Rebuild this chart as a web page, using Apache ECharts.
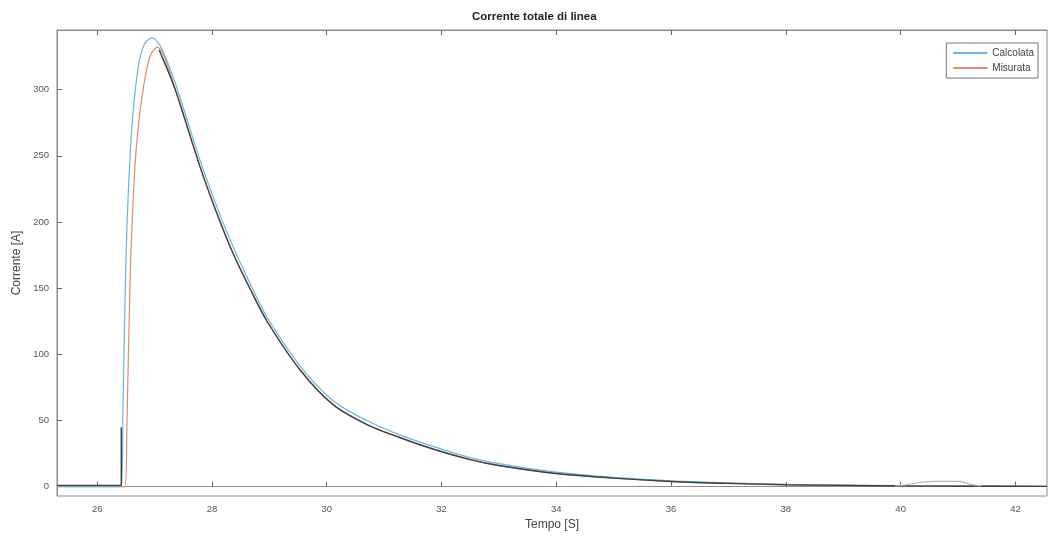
<!DOCTYPE html>
<html>
<head>
<meta charset="utf-8">
<script src="https://cdn.jsdelivr.net/npm/echarts@6/dist/echarts.min.js"></script>
<style>
  html, body { margin: 0; padding: 0; background: #fff; }
  #chart { width: 1049px; height: 539px; }
</style>
</head>
<body>
<div id="chart"></div>
<script>
// tick positions (MATLAB style axes)
const xTicks = [26, 28, 30, 32, 34, 36, 38, 40, 42];
const yTicks = [0, 50, 100, 150, 200, 250, 300];

// Calcolata (blue)
const calcT = [25.3, 26.42, 26.45, 26.5, 26.55, 26.62, 26.72, 26.83, 26.96, 27.1, 27.36, 27.79, 28.09, 28.37, 28.67, 28.96, 29.54, 30.11, 30.7, 31.28, 31.85, 32.5, 33, 34, 35, 36, 37, 38, 39, 40, 41, 42.55];
const calcV = [0, 0, 60, 170, 230, 280, 318, 335, 339, 333, 305, 247, 211, 181, 153, 128, 91, 65, 50, 39, 30.5, 22, 17.5, 11, 7, 4.5, 3, 1.8, 1.2, 0.8, 0.5, 0.3];

// Misurata (red)
const misT = [25.3, 26.48, 26.52, 26.57, 26.63, 26.7, 26.8, 26.92, 27.05, 27.15, 27.36, 27.79, 28.09, 28.37, 28.67, 28.96, 29.54, 30.11, 30.7, 31.28, 31.85, 32.5, 33, 34, 35, 36, 37, 38, 39, 40, 41, 42.55];
const misV = [0, 0, 50, 150, 220, 265, 300, 325, 332, 327, 300, 242, 206, 176, 149, 125, 88, 62, 47, 37, 28.5, 20.5, 16, 10, 6.5, 4, 2.5, 1.5, 1, 0.5, 0.4, 0.3];

// dark trace (not in legend)
const darkT = [25.3, 26.42, 26.42, 26.5, 27.08, 27.36, 27.79, 28.09, 28.37, 28.67, 28.96, 29.54, 30.11, 30.7, 31.28, 31.85, 32.5, 33, 34, 35, 36, 37, 38, 39, 40, 41, 42.55];
const darkV = [1, 1, 45, '-', 330, 300, 242, 206, 176, 149, 125, 88, 62, 47, 37, 28.5, 20.5, 16, 10, 6.5, 4, 2.5, 1.5, 1, 0.5, 0.4, 0.3];

// small light grey bump near 40-41 s
const bumpT = [39.9, 40.1, 40.3, 40.6, 41.0, 41.2, 41.4];
const bumpV = [0.5, 1.5, 3, 4, 4, 2, 0.5];

const pairs = (t, v) => t.map((x, i) => [x, v[i]]);

const chart = echarts.init(document.getElementById('chart'));
const font = 'Liberation Sans, Arial, sans-serif';
const frame = '#8c8c8c';

chart.setOption({
  animation: false,
  backgroundColor: '#fff',
  title: {
    text: 'Corrente totale di linea',
    left: 467,
    top: 6,
    textStyle: { fontFamily: font, fontSize: 11.5, fontWeight: 'bold', color: '#222' }
  },
  legend: {
    data: ['Calcolata', 'Misurata'],
    orient: 'vertical',
    right: 11,
    top: 43,
    itemWidth: 34,
    itemHeight: 2,
    itemGap: 5,
    icon: 'rect',
    padding: [5, 4, 5, 7],
    borderColor: '#777',
    borderWidth: 1,
    backgroundColor: '#fff',
    textStyle: { fontFamily: font, fontSize: 10, color: '#444' }
  },
  grid: {
    left: 57, right: 2, top: 30, bottom: 43,
    show: true, borderColor: frame, borderWidth: 1
  },
  xAxis: [
    {
      type: 'value', min: 25.3, max: 42.55,
      name: 'Tempo [S]', nameLocation: 'middle', nameGap: 22,
      nameTextStyle: { fontFamily: font, fontSize: 12, color: '#444' },
      axisLine: { show: true, lineStyle: { color: frame } },
      axisTick: { inside: true, length: 5, customValues: xTicks, lineStyle: { color: '#666' } },
      axisLabel: { customValues: xTicks, fontFamily: font, fontSize: 9.5, color: '#555', margin: 8 },
      splitLine: { show: false }
    },
    {
      type: 'value', min: 25.3, max: 42.55, position: 'top',
      axisLine: { show: true, lineStyle: { color: frame } },
      axisTick: { inside: true, length: 5, customValues: xTicks, lineStyle: { color: '#666' } },
      axisLabel: { show: false },
      splitLine: { show: false }
    }
  ],
  yAxis: {
    type: 'value', min: -7, max: 345,
    name: 'Corrente [A]', nameLocation: 'middle', nameGap: 34,
    nameTextStyle: { fontFamily: font, fontSize: 12, color: '#444' },
    axisLine: { show: true, lineStyle: { color: frame } },
    axisTick: { show: true, inside: true, length: 5, customValues: yTicks, lineStyle: { color: '#666' } },
    axisLabel: { customValues: yTicks, fontFamily: font, fontSize: 9.5, color: '#555', margin: 8 },
    splitLine: { show: false }
  },
  series: [
    {
      name: 'Misurata', type: 'line', data: pairs(misT, misV),
      symbol: 'none', color: '#e8896b', smooth: 0.3,
      lineStyle: { color: '#e8896b', width: 1.2 }
    },
    {
      name: 'Calcolata', type: 'line', data: pairs(calcT, calcV),
      symbol: 'none', color: '#68b6e0', smooth: 0.3,
      lineStyle: { color: '#68b6e0', width: 1.2 }
    },
    {
      name: 'dark', type: 'line', data: pairs(darkT, darkV),
      symbol: 'none', connectNulls: false, smooth: 0.3,
      lineStyle: { color: '#404040', width: 1.4 }
    },
    {
      name: 'bump', type: 'line', data: pairs(bumpT, bumpV),
      symbol: 'none', smooth: true,
      lineStyle: { color: '#b8b8b8', width: 1.2 }
    }
  ]
});
</script>
</body>
</html>
